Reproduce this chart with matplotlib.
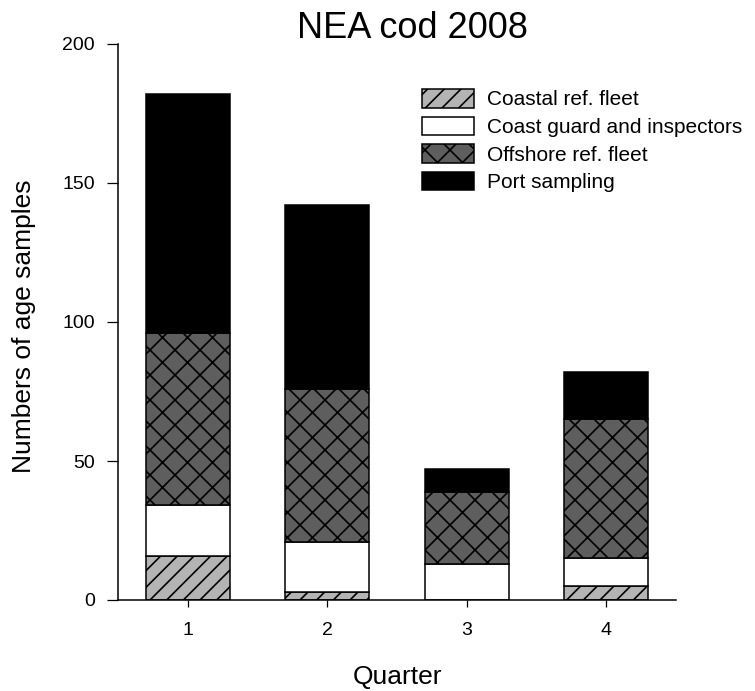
import numpy as np
import matplotlib
matplotlib.use("Agg")
import matplotlib.pyplot as plt
import matplotlib.hatch as mhatch

# ---- data ----
quarters = [1, 2, 3, 4]
quarter_labels = ["1", "2", "3", "4"]
coastal_ref_fleet = [16, 3, 0, 5]
coast_guard = [18, 18, 13, 10]
offshore_ref_fleet = [62, 55, 26, 50]
port_sampling = [86, 66, 8, 17]
series_names = ["Coastal ref. fleet", "Coast guard and inspectors",
                "Offshore ref. fleet", "Port sampling"]


# 'X' -> cross-hatch with a spacing between that of 'x' and 'xx'
class _NE(mhatch.NorthEastHatch):
    def __init__(self, hatch, density):
        self.num_lines = int((hatch.count('/') + hatch.count('x')) * density) + 8 * hatch.count('X')
        self.num_vertices = (self.num_lines + 1) * 2 if self.num_lines else 0


class _SE(mhatch.SouthEastHatch):
    def __init__(self, hatch, density):
        self.num_lines = int((hatch.count('\\') + hatch.count('x')) * density) + 8 * hatch.count('X')
        self.num_vertices = (self.num_lines + 1) * 2 if self.num_lines else 0


mhatch._hatch_types = [_NE if c is mhatch.NorthEastHatch else
                       _SE if c is mhatch.SouthEastHatch else c
                       for c in mhatch._hatch_types]

plt.rcParams['font.family'] = ['Liberation Sans', 'DejaVu Sans']
plt.rcParams['hatch.linewidth'] = 1.2

fig = plt.figure(figsize=(7.55, 6.91), dpi=100)
ax = fig.add_axes([118 / 755, 1 - 600 / 691, 558 / 755, 556 / 691])

width = 0.6
styles = [
    dict(color="#b4b4b4", hatch="//"),
    dict(color="#ffffff", hatch=None),
    dict(color="#5e5e5e", hatch="X"),
    dict(color="#000000", hatch=None),
]
data = [coastal_ref_fleet, coast_guard, offshore_ref_fleet, port_sampling]
bottom = np.zeros(len(quarters))
handles = []
for vals, name, st in zip(data, series_names, styles):
    b = ax.bar(quarters, vals, width=width, bottom=bottom, facecolor=st["color"],
               edgecolor="black", linewidth=1.1, hatch=st["hatch"], label=name)
    handles.append(b)
    bottom += np.array(vals)

ax.set_xlim(0.5, 4.5)
ax.set_ylim(0, 200)
ax.set_xticks(quarters)
ax.set_xticklabels(quarter_labels)
ax.set_yticks([0, 50, 100, 150, 200])

for s in ["top", "right"]:
    ax.spines[s].set_visible(False)
for s in ["left", "bottom"]:
    ax.spines[s].set_linewidth(1.1)

ax.tick_params(axis="y", direction="out", length=8, width=0.9, pad=8.5, labelsize=14)
ax.tick_params(axis="x", direction="out", length=5, width=0.9, pad=11, labelsize=14)

ax.set_ylabel("Numbers of age samples", fontsize=19, va="center")
ax.yaxis.set_label_coords((24 - 118) / 558, (600 - 326) / 556)
ax.set_xlabel("Quarter", fontsize=19, va="center")
ax.xaxis.set_label_coords(0.5, (600 - 677) / 556)

ax.set_title("NEA cod 2008", fontsize=26, x=(412.5 - 118) / 558,
             y=(600 - 38) / 556, pad=0, va="baseline")

ax.legend(handles=handles, loc="upper left", bbox_to_anchor=(422 / 755, 1 - 89 / 691),
          bbox_transform=fig.transFigure, frameon=False, fontsize=15,
          borderpad=0, borderaxespad=0, handlelength=2.5, handleheight=1.0,
          handletextpad=0.62, labelspacing=0.34)

fig.savefig("out.png", dpi=100)
